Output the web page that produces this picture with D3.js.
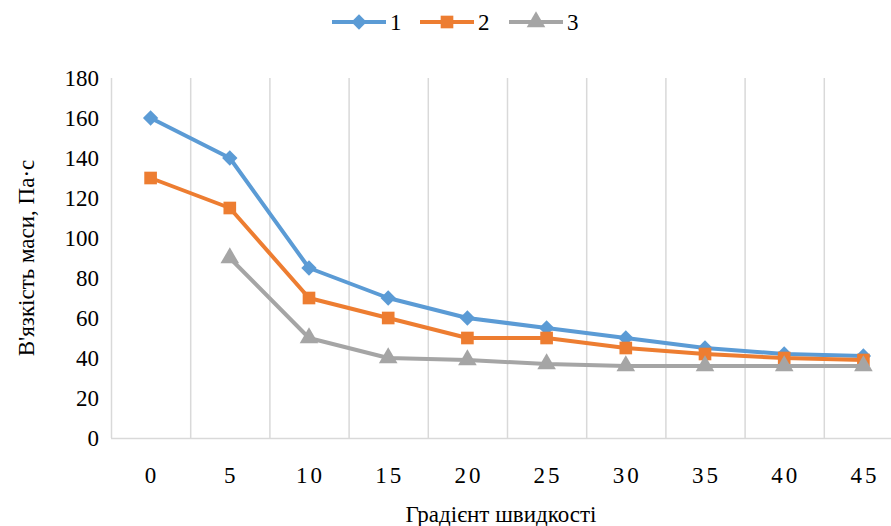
<!DOCTYPE html>
<html>
<head>
<meta charset="utf-8">
<script src="https://cdn.jsdelivr.net/npm/d3@7"></script>
<style>
  body { margin: 0; font-family: "Times New Roman", "Liberation Serif", serif; }
  svg text { font-family: "Times New Roman", "Liberation Serif", serif !important; }
</style>
</head>
<body>
<script>
const categories = ["0", "5", "10", "15", "20", "25", "30", "35", "40", "45"];
const series1 = [160, 140, 85, 70, 60, 55, 50, 45, 42, 41];
const series2 = [130, 115, 70, 60, 50, 50, 45, 42, 40, 39];
const series3 = [null, 90, 50, 40, 39, 37, 36, 36, 36, 36];
const seriesNames = ["1", "2", "3"];
const yTicks = [0, 20, 40, 60, 80, 100, 120, 140, 160, 180];

const colors = ["#5b9bd5", "#ed7d31", "#a5a5a5"];
const shapes = [d3.symbolDiamond2, d3.symbolSquare, d3.symbolTriangle];
const sizes = [150, 160, 150];
const FONT = '"Times New Roman", "Liberation Serif", serif';

const width = 891, height = 526;
const margin = { left: 111, top: 78, right: -12, bottom: 88 };

const svg = d3.select("body").append("svg")
  .attr("width", width)
  .attr("height", height)
  .attr("font-family", "Times New Roman")
  .style("display", "block")
  .style("font-family", FONT);

const x = d3.scaleBand()
  .domain(categories)
  .range([margin.left, width - margin.right])
  .padding(0);

const y = d3.scaleLinear()
  .domain([0, 180])
  .range([height - margin.bottom, margin.top]);

// vertical gridlines between categories
svg.append("g")
  .selectAll("line")
  .data(categories)
  .join("line")
  .attr("x1", d => x(d) + 0.5)
  .attr("x2", d => x(d) + 0.5)
  .attr("y1", y(180))
  .attr("y2", y(0))
  .attr("stroke", "#d9d9d9")
  .attr("stroke-width", 1.5);

// bottom axis line
svg.append("line")
  .attr("x1", margin.left)
  .attr("x2", width)
  .attr("y1", y(0) + 0.5)
  .attr("y2", y(0) + 0.5)
  .attr("stroke", "#d9d9d9")
  .attr("stroke-width", 1.5);

// y tick labels
svg.append("g")
  .selectAll("text")
  .data(yTicks)
  .join("text")
  .attr("x", 99)
  .attr("y", d => y(d) + 8)
  .attr("text-anchor", "end")
  .attr("font-size", 23)
  .style("font-family", FONT)
  .text(d => d);

// x tick labels
svg.append("g")
  .selectAll("text")
  .data(categories)
  .join("text")
  .attr("x", d => x(d) + x.bandwidth() / 2 + 1.5)
  .attr("y", 483)
  .attr("text-anchor", "middle")
  .attr("font-size", 23)
  .style("font-family", FONT)
  .style("letter-spacing", "3px")
  .text(d => d);

// axis titles
svg.append("text")
  .attr("x", 501)
  .attr("y", 522)
  .attr("text-anchor", "middle")
  .attr("font-size", 23)
  .style("font-family", FONT)
  .text("Градієнт швидкості");

svg.append("text")
  .attr("transform", "translate(34,258) rotate(-90)")
  .attr("text-anchor", "middle")
  .attr("font-size", 23)
  .style("font-family", FONT)
  .text("В'язкість маси, Па·с");

// series
const allSeries = [series1, series2, series3];
const line = d3.line()
  .defined(d => d.v != null)
  .x(d => x(d.c) + x.bandwidth() / 2)
  .y(d => y(d.v));

allSeries.forEach((vals, i) => {
  const pts = vals.map((v, j) => ({ c: categories[j], v }));
  const g = svg.append("g");
  g.append("path")
    .datum(pts)
    .attr("d", line)
    .attr("fill", "none")
    .attr("stroke", colors[i])
    .attr("stroke-width", 4)
    .attr("stroke-linejoin", "round");
  g.selectAll("path.m")
    .data(pts.filter(d => d.v != null))
    .join("path")
    .attr("class", "m")
    .attr("transform", d => `translate(${x(d.c) + x.bandwidth() / 2},${y(d.v)})`)
    .attr("d", d3.symbol().type(shapes[i]).size(sizes[i]))
    .attr("fill", colors[i]);
});

// legend
const legendX = [332, 420, 509];
const legend = svg.append("g");
seriesNames.forEach((name, i) => {
  const lg = legend.append("g").attr("transform", `translate(${legendX[i]},22)`);
  lg.append("line")
    .attr("x1", 0).attr("x2", 54)
    .attr("stroke", colors[i])
    .attr("stroke-width", 4);
  lg.append("path")
    .attr("transform", "translate(27,0)")
    .attr("d", d3.symbol().type(shapes[i]).size(sizes[i]))
    .attr("fill", colors[i]);
  lg.append("text")
    .attr("x", 58)
    .attr("y", 8)
    .attr("font-size", 23)
    .style("font-family", FONT)
    .text(name);
});
</script>
</body>
</html>
